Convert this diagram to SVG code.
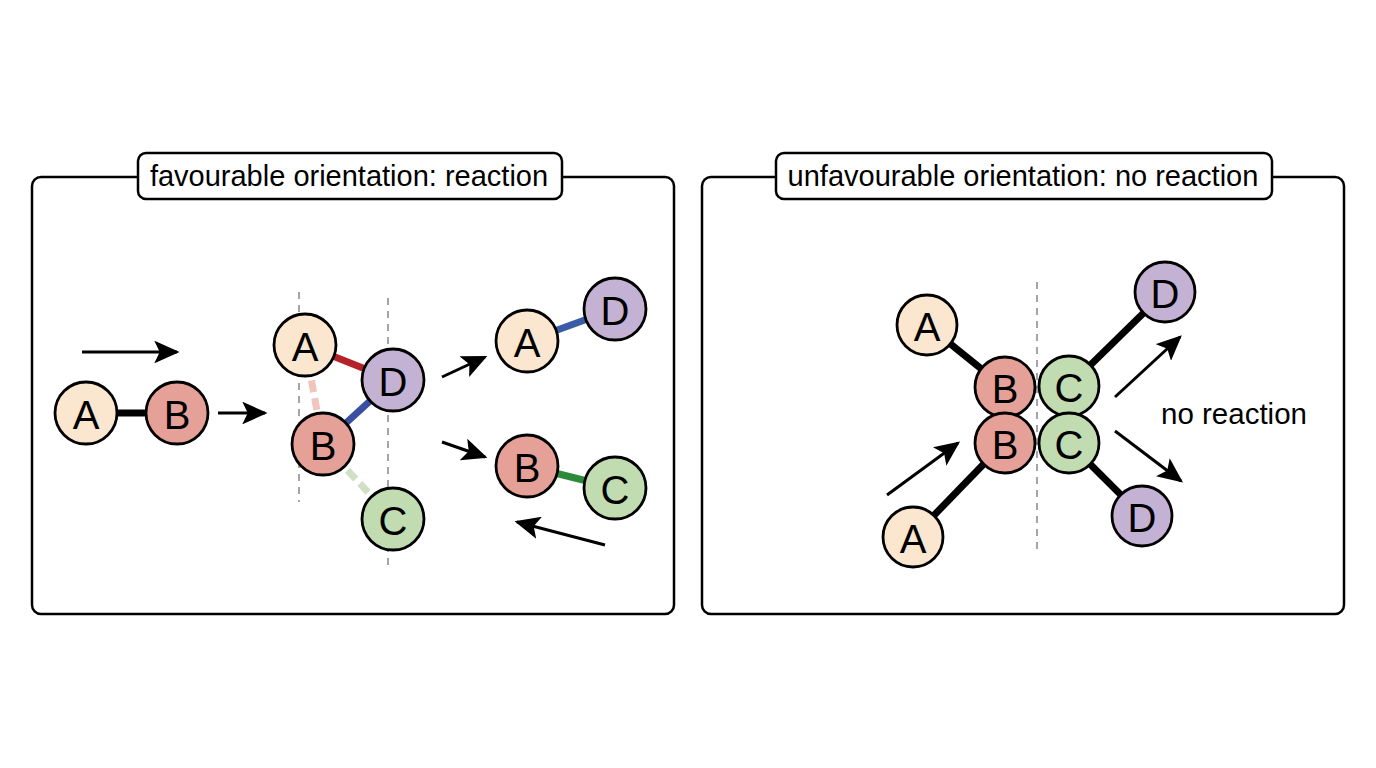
<svg xmlns="http://www.w3.org/2000/svg" width="1376" height="768" viewBox="0 0 1376 768">
<defs>
<marker id="ah" viewBox="0 0 10 9" refX="9" refY="4.5" markerWidth="8.5" markerHeight="7.6" markerUnits="strokeWidth" orient="auto">
<path d="M0,0 L10,4.5 L0,9 L2.2,4.5 Z" fill="#000"/>
</marker>
<style>
.panel{fill:#fff;stroke:#000;stroke-width:2.5}
.title{fill:#fff;stroke:#000;stroke-width:2.5}
.tt{font-family:"Liberation Sans",Arial,sans-serif;font-size:29px;fill:#000;text-anchor:middle}
.lbl{font-family:"Liberation Sans",Arial,sans-serif;font-size:40px;fill:#000;text-anchor:middle;dominant-baseline:central}
.n{stroke:#000;stroke-width:2.8}
.a{fill:#fbe6cf}.b{fill:#e5a198}.c{fill:#c2dcb2}.d{fill:#c4b2d4}
.arr{stroke:#000;stroke-width:3;fill:none;marker-end:url(#ah)}
.bond{stroke:#000;stroke-width:7}
.dash{stroke:#888;stroke-width:1.5;stroke-dasharray:7,6;fill:none}
</style>
</defs>
<rect width="1376" height="768" fill="#fff"/>
<g id="panel-left">
<rect class="panel" x="32" y="177" width="642" height="437" rx="9"/>
<rect class="title" x="138" y="153" width="424" height="46" rx="8"/>
<text class="tt" x="349" y="186">favourable orientation: reaction</text>
</g>
<g id="panel-right">
<rect class="panel" x="702" y="177" width="642" height="437" rx="9"/>
<rect class="title" x="776" y="153" width="496" height="46" rx="8"/>
<text class="tt" x="1023" y="186">unfavourable orientation: no reaction</text>
</g>
<g id="connectors">
<line class="dash" x1="299" y1="292" x2="299" y2="502"/>
<line class="dash" x1="388" y1="298" x2="388" y2="565"/>
<line class="dash" x1="1037" y1="282" x2="1037" y2="553"/>
<line class="bond" x1="86" y1="413" x2="177" y2="413"/>
<line x1="305" y1="345" x2="393" y2="380" stroke="#b5232a" stroke-width="7"/>
<line x1="323" y1="444" x2="393" y2="380" stroke="#3a4fa0" stroke-width="7"/>
<line x1="305" y1="345" x2="323" y2="444" stroke="#f1c4bd" stroke-width="7" stroke-dasharray="12,6"/>
<line x1="323" y1="444" x2="393" y2="519" stroke="#cfe0c5" stroke-width="7" stroke-dasharray="12,6"/>
<line x1="527" y1="341" x2="615" y2="309" stroke="#3a5ca8" stroke-width="7"/>
<line x1="527" y1="466" x2="615" y2="488" stroke="#2d8a3a" stroke-width="7"/>
<line class="bond" x1="927" y1="325" x2="1005" y2="388"/>
<line class="bond" x1="1069" y1="386" x2="1165" y2="292"/>
<line class="bond" x1="913" y1="537" x2="1005" y2="442"/>
<line class="bond" x1="1069" y1="443" x2="1142" y2="516"/>
<line class="arr" x1="82" y1="352" x2="177" y2="352"/>
<line class="arr" x1="218" y1="413" x2="265" y2="413"/>
<line class="arr" x1="442" y1="377" x2="485" y2="357"/>
<line class="arr" x1="442" y1="442" x2="485" y2="457"/>
<line class="arr" x1="605" y1="545" x2="517" y2="522"/>
<line class="arr" x1="887" y1="495" x2="958" y2="443"/>
<line class="arr" x1="1115" y1="397" x2="1180" y2="337"/>
<line class="arr" x1="1115" y1="431" x2="1181" y2="481"/>
</g>
<g id="L-A1"><circle class="n a" cx="86" cy="413" r="31"/><text class="lbl" x="86" y="415">A</text></g>
<g id="L-B1"><circle class="n b" cx="177" cy="413" r="31"/><text class="lbl" x="177" y="415">B</text></g>
<g id="L-A2"><circle class="n a" cx="305" cy="345" r="31"/><text class="lbl" x="305" y="347">A</text></g>
<g id="L-D2"><circle class="n d" cx="393" cy="380" r="31"/><text class="lbl" x="393" y="382">D</text></g>
<g id="L-B2"><circle class="n b" cx="323" cy="444" r="31"/><text class="lbl" x="323" y="446">B</text></g>
<g id="L-C2"><circle class="n c" cx="393" cy="519" r="31"/><text class="lbl" x="393" y="521">C</text></g>
<g id="L-A3"><circle class="n a" cx="527" cy="341" r="31"/><text class="lbl" x="527" y="343">A</text></g>
<g id="L-D3"><circle class="n d" cx="615" cy="309" r="31"/><text class="lbl" x="615" y="311">D</text></g>
<g id="L-B3"><circle class="n b" cx="527" cy="466" r="31"/><text class="lbl" x="527" y="468">B</text></g>
<g id="L-C3"><circle class="n c" cx="615" cy="488" r="31"/><text class="lbl" x="615" y="490">C</text></g>
<g id="R-A1"><circle class="n a" cx="927" cy="325" r="30"/><text class="lbl" x="927" y="327">A</text></g>
<g id="R-B1"><circle class="n b" cx="1005" cy="387" r="30"/><text class="lbl" x="1005" y="389">B</text></g>
<g id="R-C1"><circle class="n c" cx="1069" cy="386" r="30"/><text class="lbl" x="1069" y="388">C</text></g>
<g id="R-D1"><circle class="n d" cx="1165" cy="292" r="30"/><text class="lbl" x="1165" y="294">D</text></g>
<g id="R-B2"><circle class="n b" cx="1005" cy="443" r="30"/><text class="lbl" x="1005" y="445">B</text></g>
<g id="R-C2"><circle class="n c" cx="1069" cy="443" r="30"/><text class="lbl" x="1069" y="445">C</text></g>
<g id="R-A2"><circle class="n a" cx="913" cy="537" r="30"/><text class="lbl" x="913" y="539">A</text></g>
<g id="R-D2"><circle class="n d" cx="1142" cy="516" r="30"/><text class="lbl" x="1142" y="518">D</text></g>
<text x="1234" y="424" font-family="Liberation Sans, Arial, sans-serif" font-size="29.5" text-anchor="middle">no reaction</text>
</svg>
